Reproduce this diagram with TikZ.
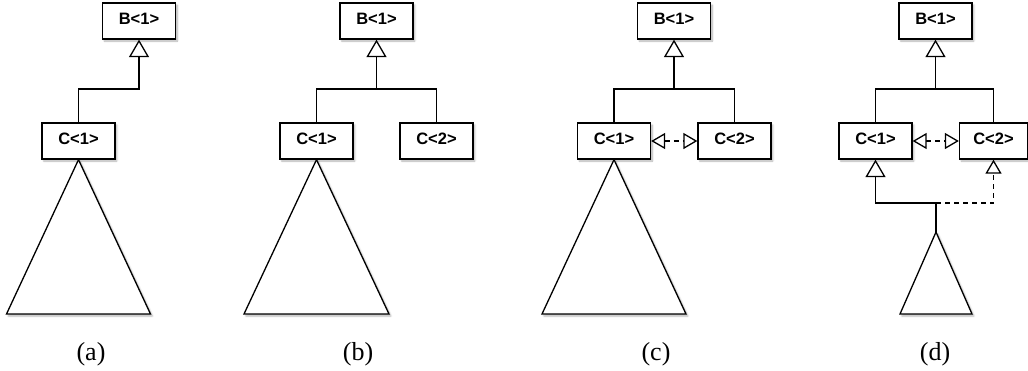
\documentclass[tikz,border=0pt]{standalone}
\usepackage{fontspec}
\setmainfont{Liberation Serif}
\newfontfamily\boxfont{Liberation Sans}
\usetikzlibrary{arrows.meta,shadows.blur}
\tikzset{
  shade/.style={blur shadow={shadow xshift=1.8pt, shadow yshift=-2pt,
      shadow blur steps=6, shadow blur radius=1.8pt, shadow opacity=30}},
  cls/.style={draw, line width=1.3pt, fill=white, shade,
      minimum width=73pt, minimum height=36pt, inner sep=0pt,
      font=\boxfont\bfseries\fontsize{16.5}{19}\selectfont,
      text height=12pt, text depth=6pt},
  tree/.style={draw, line width=1.3pt, fill=white, shade, line join=miter},
  link/.style={line width=1.3pt},
  gen/.style={link, -{Triangle[length=17.5pt, width=20pt, fill=white]}},
  dep/.style={link, dash pattern=on 5pt off 4pt,
      -{Triangle[length=14pt, width=16pt, fill=white]}},
  mutual/.style={link, dash pattern=on 5pt off 4pt,
      {Triangle[length=14pt, width=16pt, fill=white]}-{Triangle[length=14pt, width=16pt, fill=white]}},
  caption/.style={font=\fontsize{26}{30}\selectfont, anchor=base, inner sep=0pt}
}
\begin{document}
\begin{tikzpicture}[x=1pt, y=-1pt]
\useasboundingbox (0,0) rectangle (1028,370);

% ---------- (a) ----------
\node[cls] (a-B)  at (139,21)   {B<1>};
\node[cls] (a-C1) at (78.5,141) {C<1>};
\coordinate (a-j) at (139,89);
\draw[gen] (a-C1.north) |- (a-j) -- (a-B.south);
\draw[tree] (a-C1.south) -- (6.5,314) -- (150.5,314) -- cycle;
\node[caption] (a-cap) at (91,360) {(a)};

% ---------- (b) ----------
\node[cls] (b-B)  at (376.5,21)  {B<1>};
\node[cls] (b-C1) at (316.5,141) {C<1>};
\node[cls] (b-C2) at (436.5,141) {C<2>};
\coordinate (b-j) at (376.5,89);
\draw[link] (b-C1.north) |- (b-j) -| (b-C2.north);
\draw[gen] (b-j) -- (b-B.south);
\draw[tree] (b-C1.south) -- (244,314) -- (389,314) -- cycle;
\node[caption] (b-cap) at (358,360) {(b)};

% ---------- (c) ----------
\node[cls] (c-B)  at (674,21)    {B<1>};
\node[cls] (c-C1) at (614,141)   {C<1>};
\node[cls] (c-C2) at (734.5,141) {C<2>};
\coordinate (c-j) at (674,89);
\draw[link] (c-C1.north) |- (c-j) -| (c-C2.north);
\draw[gen] (c-j) -- (c-B.south);
\draw[mutual] (c-C1.east) -- (c-C2.west);
\draw[tree] (c-C1.south) -- (542,314) -- (686,314) -- cycle;
\node[caption] (c-cap) at (656,360) {(c)};

% ---------- (d) ----------
\node[cls] (d-B)  at (935.5,21)  {B<1>};
\node[cls] (d-C1) at (875.5,141) {C<1>};
\node[cls, minimum width=68pt] (d-C2) at (993.5,141) {C<2>};
\coordinate (d-j) at (935.5,89);
\draw[link] (d-C1.north) |- (d-j) -| (d-C2.north);
\draw[gen] (d-j) -- (d-B.south);
\draw[mutual] (d-C1.east) -- (d-C2.west);
\coordinate (d-top) at (936,232);
\coordinate (d-k) at (936,203);
\draw[tree] (d-top) -- (900,314) -- (972,314) -- cycle;
\draw[link] (d-top) -- (d-k);
\draw[gen] (d-k) -| (d-C1.south);
\draw[dep] (d-k) -| (d-C2.south);
\node[caption] (d-cap) at (935,360) {(d)};
\end{tikzpicture}
\end{document}
